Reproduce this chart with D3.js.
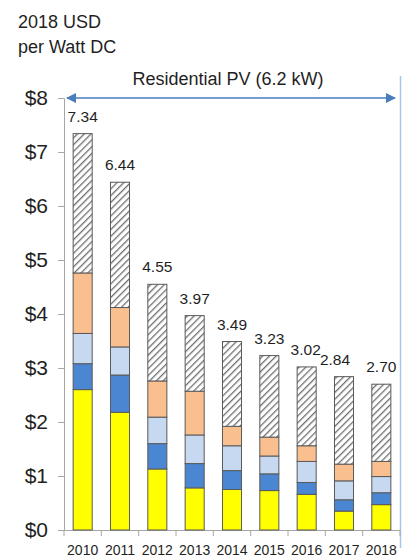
<!DOCTYPE html>
<html>
<head>
<meta charset="utf-8">
<script src="https://cdn.jsdelivr.net/npm/d3@7"></script>
<style>
  html, body { margin: 0; padding: 0; background: #fff; }
  svg { display: block; font-family: "Liberation Sans", Arial, sans-serif; }
</style>
</head>
<body>
<svg id="chart" width="408" height="560"></svg>
<script>
// Residential PV installed cost breakdown, 2018 USD per Watt DC
const years    = ["2010", "2011", "2012", "2013", "2014", "2015", "2016", "2017", "2018"];
const module   = [2.60, 2.18, 1.13, 0.78, 0.75, 0.73, 0.66, 0.35, 0.47];
const inverter = [0.48, 0.69, 0.47, 0.45, 0.35, 0.31, 0.22, 0.21, 0.22];
const bos      = [0.56, 0.52, 0.49, 0.53, 0.46, 0.33, 0.39, 0.35, 0.30];
const labor    = [1.12, 0.73, 0.67, 0.81, 0.36, 0.35, 0.29, 0.31, 0.28];
const soft     = [2.58, 2.32, 1.79, 1.40, 1.57, 1.51, 1.46, 1.62, 1.43];
const totals   = ["7.34", "6.44", "4.55", "3.97", "3.49", "3.23", "3.02", "2.84", "2.70"];
const yTicks   = [0, 1, 2, 3, 4, 5, 6, 7, 8];

const layers = [
  { key: "module",   values: module,   fill: "#ffff00" },
  { key: "inverter", values: inverter, fill: "#4a86d2" },
  { key: "bos",      values: bos,      fill: "#c6d9f1" },
  { key: "labor",    values: labor,    fill: "#f9bf8f" },
  { key: "soft",     values: soft,     fill: "url(#hatch)" }
];

const rows = years.map((yr, i) => {
  const r = { year: yr };
  layers.forEach(l => { r[l.key] = l.values[i]; });
  return r;
});

const svg = d3.select("#chart");
const plotLeft = 64, plotRight = 400, plotTop = 98, plotBottom = 530;
const ink = "#1f1f1f";

const x = d3.scaleBand().domain(years).range([plotLeft, plotRight]).paddingInner(0.49).paddingOuter(0.245);
const y = d3.scaleLinear().domain([0, 8]).range([plotBottom, plotTop]);

// diagonal hatch for soft costs
const defs = svg.append("defs");
const pat = defs.append("pattern")
  .attr("id", "hatch")
  .attr("patternUnits", "userSpaceOnUse")
  .attr("width", 4.8).attr("height", 4.8)
  .attr("patternTransform", "rotate(45)");
pat.append("rect").attr("width", 4.8).attr("height", 4.8).attr("fill", "#fff");
pat.append("line")
  .attr("x1", 0).attr("y1", 0).attr("x2", 0).attr("y2", 4.8)
  .attr("stroke", "#6f6f6f").attr("stroke-width", 2.6);

// headings
svg.append("text").attr("x", 18).attr("y", 28)
  .attr("font-size", 18).attr("fill", ink).text("2018 USD");
svg.append("text").attr("x", 18).attr("y", 53)
  .attr("font-size", 18).attr("fill", ink).text("per Watt DC");
svg.append("text").attr("x", 228).attr("y", 85).attr("text-anchor", "middle")
  .attr("font-size", 18).attr("fill", ink).text("Residential PV (6.2 kW)");

// right-hand divider
svg.append("line")
  .attr("x1", 400.5).attr("x2", 400.5).attr("y1", 76).attr("y2", 548)
  .attr("stroke", "#a9c6ea").attr("stroke-width", 1.5);

// y axis
const yAxis = svg.append("g")
  .attr("transform", `translate(${plotLeft},0)`)
  .call(d3.axisLeft(y).tickValues(yTicks).tickSize(6).tickPadding(10).tickFormat(d => "$" + d));
yAxis.select(".domain").attr("stroke", "#a6a6a6");
yAxis.selectAll(".tick line").attr("stroke", "#a6a6a6");
yAxis.selectAll(".tick text")
  .attr("font-size", 21).attr("fill", ink)
  .attr("font-family", "'Liberation Sans', Arial, sans-serif");

// x axis with ticks between categories
const xAxisG = svg.append("g").attr("transform", `translate(0,${plotBottom})`);
xAxisG.append("line").attr("x1", plotLeft).attr("x2", plotRight).attr("y1", 0.5).attr("y2", 0.5)
  .attr("stroke", "#a6a6a6");
const step = x.step();
xAxisG.selectAll("line.sep").data(d3.range(years.length + 1)).join("line")
  .attr("class", "sep")
  .attr("x1", i => plotLeft + i * step).attr("x2", i => plotLeft + i * step)
  .attr("y1", 0).attr("y2", 6)
  .attr("stroke", "#a6a6a6");
xAxisG.selectAll("text").data(years).join("text")
  .attr("x", d => x(d) + x.bandwidth() / 2)
  .attr("y", 25)
  .attr("text-anchor", "middle")
  .attr("font-size", 14).attr("fill", ink)
  .text(d => d);

// stacked bars
const stack = d3.stack().keys(layers.map(l => l.key));
const series = stack(rows);
svg.append("g").selectAll("g").data(series).join("g")
  .attr("fill", (s, i) => layers[i].fill)
  .selectAll("rect").data(s => s).join("rect")
  .attr("x", d => x(d.data.year))
  .attr("width", x.bandwidth())
  .attr("y", d => y(d[1]))
  .attr("height", d => y(d[0]) - y(d[1]))
  .attr("stroke", "#595959").attr("stroke-width", 1);

// total labels
const labelShift = [0, 0, 0, 0, 0, 0, -1, -9, 0];
svg.append("g").selectAll("text").data(years).join("text")
  .attr("x", (d, i) => x(d) + x.bandwidth() / 2 + labelShift[i])
  .attr("y", (d, i) => y(d3.sum(layers, l => l.values[i])) - 12)
  .attr("text-anchor", "middle")
  .attr("font-size", 15.5).attr("fill", ink)
  .text((d, i) => totals[i]);

// span arrow over the residential range
defs.append("marker").attr("id", "arrowEnd")
  .attr("viewBox", "0 0 10 10").attr("refX", 9).attr("refY", 5)
  .attr("markerWidth", 12).attr("markerHeight", 10).attr("markerUnits", "userSpaceOnUse")
  .attr("orient", "auto")
  .append("path").attr("d", "M0,0L10,5L0,10Z").attr("fill", "#4a7ebb");
defs.append("marker").attr("id", "arrowStart")
  .attr("viewBox", "0 0 10 10").attr("refX", 1).attr("refY", 5)
  .attr("markerWidth", 12).attr("markerHeight", 10).attr("markerUnits", "userSpaceOnUse")
  .attr("orient", "auto")
  .append("path").attr("d", "M10,0L0,5L10,10Z").attr("fill", "#4a7ebb");
svg.append("line")
  .attr("x1", 67).attr("x2", 395).attr("y1", 98).attr("y2", 98)
  .attr("stroke", "#4a7ebb").attr("stroke-width", 1.5)
  .attr("marker-start", "url(#arrowStart)").attr("marker-end", "url(#arrowEnd)");
</script>
</body>
</html>
